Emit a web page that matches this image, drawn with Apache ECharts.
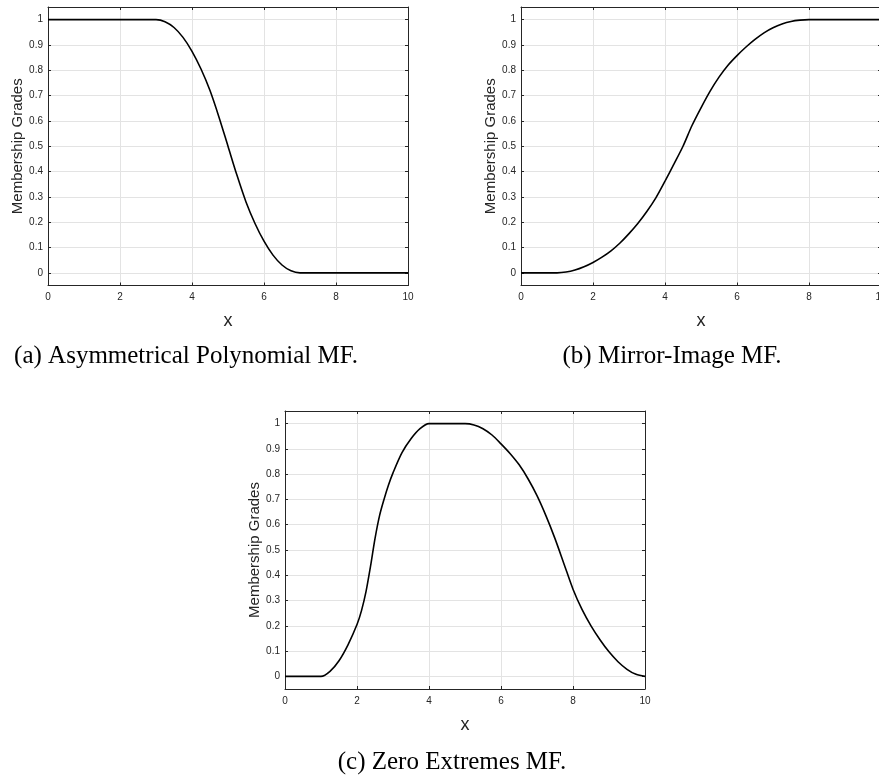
<!DOCTYPE html>
<html>
<head>
<meta charset="utf-8">
<script src="https://cdn.jsdelivr.net/npm/echarts@6/dist/echarts.min.js"></script>
<style>
html,body{margin:0;padding:0;background:#fff;}
#chart{width:879px;height:781px;}
</style>
</head>
<body>
<div id="chart"></div>
<script>
// (a) Asymmetrical Polynomial MF
const xA = [0, 3, 3.25, 3.5, 3.75, 4, 4.25, 4.5, 4.75, 5, 5.25, 5.5, 5.75, 6, 6.25, 6.5, 6.75, 7, 10];
const yA = [1, 1, 0.992, 0.969, 0.93, 0.875, 0.805, 0.72, 0.615, 0.50, 0.385, 0.28, 0.195, 0.125, 0.07, 0.031, 0.008, 0, 0];
// (b) Mirror-Image MF
const xB = [0, 1, 1.25, 1.5, 1.75, 2, 2.25, 2.5, 2.75, 3, 3.25, 3.5, 3.75, 4, 4.25, 4.5, 4.75, 5, 5.25, 5.5, 5.75, 6, 6.25, 6.5, 6.75, 7, 7.25, 7.5, 7.75, 8, 10];
const yB = [0, 0, 0.003, 0.011, 0.024, 0.041, 0.062, 0.087, 0.118, 0.155, 0.196, 0.243, 0.297, 0.362, 0.43, 0.5, 0.582, 0.652, 0.717, 0.773, 0.82, 0.858, 0.892, 0.922, 0.948, 0.968, 0.983, 0.993, 0.998, 1, 1];
// (c) Zero Extremes MF
const xC = [0, 1, 1.25, 1.5, 1.75, 2, 2.125, 2.25, 2.375, 2.5, 2.625, 2.75, 2.875, 3, 3.25, 3.5, 3.75, 4, 5, 5.25, 5.5, 5.75, 6, 6.25, 6.5, 6.75, 7, 7.25, 7.5, 7.75, 8, 8.25, 8.5, 8.75, 9, 9.25, 9.5, 9.75, 10];
const yC = [0, 0, 0.02, 0.062, 0.125, 0.205, 0.26, 0.335, 0.435, 0.545, 0.635, 0.7, 0.757, 0.805, 0.885, 0.94, 0.98, 1, 1, 0.995, 0.98, 0.955, 0.92, 0.882, 0.838, 0.782, 0.715, 0.635, 0.545, 0.445, 0.345, 0.265, 0.2, 0.145, 0.097, 0.058, 0.028, 0.008, 0];

const xTickLabels = [0, 2, 4, 6, 8, 10];
const yTickValues = [0, 0.1, 0.2, 0.3, 0.4, 0.5, 0.6, 0.7, 0.8, 0.9, 1];
const captions = ['(a) Asymmetrical Polynomial MF.', '(b) Mirror-Image MF.', '(c) Zero Extremes MF.'];
const xName = 'x';
const yName = 'Membership Grades';

const AX = '#262626';
const GRIDC = '#e3e3e3';
const SANS = 'Liberation Sans';

const grids = [
  {left: 48, top: 7, width: 360, height: 278.5, outerBoundsMode: 'none', containLabel: false},
  {left: 521, top: 7, width: 360, height: 278.5, outerBoundsMode: 'none', containLabel: false},
  {left: 285, top: 411, width: 360, height: 278, outerBoundsMode: 'none', containLabel: false}
];

const xAxes = [], yAxes = [];
grids.forEach((g, i) => {
  xAxes.push({
    gridIndex: i, type: 'value', min: 0, max: 10, interval: 2, position: 'bottom',
    axisLine: {show: true, onZero: false, lineStyle: {color: AX, width: 1}},
    axisTick: {show: true, inside: true, length: 3, lineStyle: {color: AX}},
    axisLabel: {show: true, fontSize: 10, color: AX, margin: 7, fontFamily: SANS, hideOverlap: false},
    splitLine: {show: true, lineStyle: {color: GRIDC, width: 1}},
    name: xName, nameLocation: 'middle', nameGap: 27,
    nameTextStyle: {fontSize: 18, color: AX, fontFamily: SANS}
  });
  xAxes.push({
    gridIndex: i, type: 'value', min: 0, max: 10, interval: 2, position: 'top',
    axisLine: {show: true, onZero: false, lineStyle: {color: AX, width: 1}},
    axisTick: {show: true, inside: true, length: 3, lineStyle: {color: AX}},
    axisLabel: {show: false}, splitLine: {show: false}
  });
  yAxes.push({
    gridIndex: i, type: 'value', min: -0.05, max: 1.05, position: 'left',
    axisLine: {show: true, onZero: false, lineStyle: {color: AX, width: 1}},
    axisTick: {show: true, inside: true, length: 3, lineStyle: {color: AX}, customValues: yTickValues},
    axisLabel: {show: true, fontSize: 10, color: AX, margin: 5, fontFamily: SANS, customValues: yTickValues,
      formatter: v => String(Math.round(v * 10) / 10)},
    splitLine: {show: true, lineStyle: {color: GRIDC, width: 1}},
    name: yName, nameLocation: 'middle', nameGap: 22,
    nameTextStyle: {fontSize: 15, color: AX, fontFamily: SANS}
  });
  yAxes.push({
    gridIndex: i, type: 'value', min: -0.05, max: 1.05, position: 'right',
    axisLine: {show: true, onZero: false, lineStyle: {color: AX, width: 1}},
    axisTick: {show: true, inside: true, length: 3, lineStyle: {color: AX}, customValues: yTickValues},
    axisLabel: {show: false}, splitLine: {show: false}
  });
});

function pairs(xs, ys) { return xs.map((x, k) => [x, ys[k]]); }

const seriesData = [pairs(xA, yA), pairs(xB, yB), pairs(xC, yC)];
const series = seriesData.map((d, i) => ({
  type: 'line', xAxisIndex: 2 * i, yAxisIndex: 2 * i, data: d,
  showSymbol: false, symbol: 'none', smooth: 0.3,
  lineStyle: {color: '#000', width: 1.6}, silent: true
}));

const capPos = [[186, 356], [672, 356], [452, 762]];
const graphic = captions.map((t, i) => ({
  type: 'text', x: capPos[i][0], y: capPos[i][1],
  style: {text: t, fill: '#000', font: '25px "Liberation Serif"', textAlign: 'center', textVerticalAlign: 'middle'}
}));

const chart = echarts.init(document.getElementById('chart'), null, {renderer: 'canvas'});
chart.setOption({
  animation: false,
  backgroundColor: '#fff',
  grid: grids,
  xAxis: xAxes,
  yAxis: yAxes,
  series: series,
  graphic: graphic
});
</script>
</body>
</html>
